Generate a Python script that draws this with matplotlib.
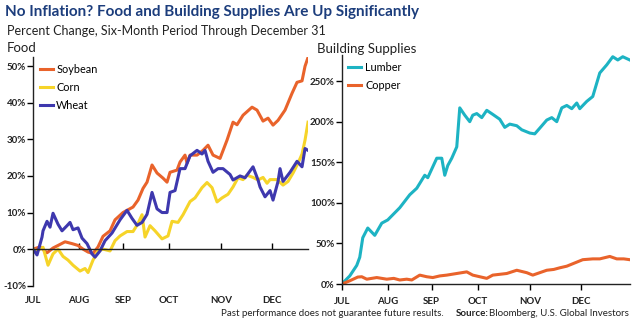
"""
Food vs building supplies, six-month percent change
"""
import matplotlib.pyplot as plt
import numpy as np

plt.rcParams['font.family'] = ['Lato', 'DejaVu Sans']

# month tick positions along the trading timeline (same scale both panels)
months = ['JUL', 'AUG', 'SEP', 'OCT', 'NOV', 'DEC']
month_pos = [0, 46, 90, 136, 188, 239]

# --- Food (percent change) ---
soy_x = [0, 7, 14, 20, 25, 32, 39, 45, 50, 55, 60, 65, 70, 77, 82, 90, 100, 105, 110, 114,
         119, 124, 130, 134, 137, 144, 147, 152, 154, 157, 164, 170, 175, 180, 187, 194,
         200, 204, 210, 219, 224, 230, 235, 240, 245, 252, 259, 264, 269, 272, 275]
soy_y = [0, 0.6, -1, 0.3, 1, 2, 1.5, 1, 0, -0.8, -1.2, 0.6, 3.5, 5, 8, 10, 11.5, 13.4, 16.6, 18.3,
         23, 20.8, 19.4, 18.3, 21, 21.6, 23.8, 25.7, 23.5, 25.7, 25.7, 27, 28.4, 25.7, 24.8, 29.8,
         34.7, 34, 36.6, 38.8, 38, 35, 35.8, 33.9, 35.2, 38, 42.6, 45.6, 46, 50, 52.4]

corn_x = [0, 4, 10, 15, 20, 25, 30, 35, 40, 47, 52, 55, 60, 65, 70, 77, 82, 87, 94, 100,
          105, 109, 112, 117, 122, 129, 135, 139, 145, 150, 157, 162, 169, 174, 179, 184,
          189, 195, 200, 205, 210, 214, 220, 225, 230, 234, 237, 244, 250, 255, 260, 265,
          269, 272, 275]
corn_y = [0, -0.5, 0.5, -4.4, -1.3, 0, -2, -3, -4.4, -6, -5.3, -6.4, -3, -0.5, 0, -0.5, 2.3, 3.6, 4.8, 4.8,
          7, 9.4, 3.3, 6.4, 5, 2.8, 3.6, 7.6, 7.3, 9.4, 13, 14, 16.8, 18.2, 16.8, 12.9,
          14, 15, 17, 19.5, 19, 20.2, 19.6, 18.9, 19.6, 18, 19, 19, 17.5, 18.5, 20.8, 23.5,
          26, 29.8, 34.7]

wheat_x = [0, 4, 9, 10, 14, 17, 20, 25, 29, 34, 37, 40, 45, 49, 54, 59, 62, 67, 72, 79,
           87, 94, 99, 104, 109, 114, 119, 124, 129, 134, 137, 142, 147, 152, 157, 164,
           169, 172, 175, 180, 185, 190, 197, 200, 207, 212, 220, 225, 227, 232, 237, 240,
           245, 247, 250, 257, 264, 269, 272, 275]
wheat_y = [0, -1.6, 3.3, 5, 7.6, 6, 9.8, 6.8, 5, 6.4, 7.3, 5.3, 5.8, 3, 1.5, -1.3, -2.2, -0.5, 2.3, 4.4,
           8, 10.6, 8.4, 6.5, 7.3, 9.5, 15.5, 11, 10, 10, 15.5, 16, 22, 22, 25.5, 27,
           26, 27, 24, 21, 22, 22, 20.4, 18.9, 20, 19.5, 22.5, 18.9, 17, 14.3, 16, 13.4,
           18.5, 22, 18.5, 21, 24, 22.5, 27.5, 27]

# --- Building supplies (percent change) ---
lumber_x = [0, 8, 15, 18, 21, 26, 33, 40, 46, 58, 68, 75, 83, 86, 95, 100, 103, 106, 110, 115,
            118, 123, 128, 131, 135, 140, 145, 151, 158, 163, 168, 175, 180, 188, 193, 198,
            205, 210, 215, 220, 225, 230, 235, 238, 245, 251, 258, 265, 271, 276, 281, 288]
lumber_y = [0, 10, 23, 33, 57, 69, 60, 75, 79, 94, 110, 118, 134, 131, 155, 155, 134, 146, 155, 169,
            217, 208, 200, 208, 210, 205, 214, 209, 203, 193, 197, 195, 190, 186, 185, 192,
            202, 205, 200, 217, 220, 216, 223, 216, 225, 231, 260, 270, 280, 276, 280, 276]

copper_x = [0, 8, 16, 20, 25, 35, 45, 52, 58, 65, 70, 78, 85, 91, 98, 105, 115, 125, 131, 138,
            145, 151, 158, 165, 175, 185, 191, 198, 205, 212, 218, 225, 235, 241, 251, 258,
            268, 275, 282, 288]
copper_y = [0, 4, 8.6, 9, 6, 8, 6, 7, 5, 6, 5, 11, 9, 8, 10, 11, 13, 15, 11, 9,
            7, 11, 12, 13, 17, 14, 11, 14, 17, 18, 20, 22, 27, 30, 31, 31,
            34, 31, 31, 30]

ORANGE = '#E9632B'
YELLOW = '#F6D429'
PURPLE = '#3E38AE'
CYAN = '#1DB3C3'
TXT = '#222222'

fig = plt.figure(figsize=(6.4, 3.28), dpi=100)

# titles
fig.text(0.008, 0.962, 'No Inflation? Food and Building Supplies Are Up Significantly',
         fontsize=11, fontweight='bold', color='#1C3D7C', va='center')
fig.text(0.011, 0.907, 'Percent Change, Six-Month Period Through December 31',
         fontsize=9, color=TXT, va='center')
fig.text(0.011, 0.853, 'Food', fontsize=9.5, color=TXT, va='center')
fig.text(0.495, 0.850, 'Building Supplies', fontsize=9.5, color=TXT, va='center')

# Plot 1: Food
ax1 = fig.add_axes([0.0516, 0.129, 0.4297, 0.697])
ax1.plot(soy_x, soy_y, color=ORANGE, lw=2.2, label='Soybean')
ax1.plot(corn_x, corn_y, color=YELLOW, lw=2.2, label='Corn')
ax1.plot(wheat_x, wheat_y, color=PURPLE, lw=2.2, label='Wheat')
ax1.set_xlim(0, 275)
ax1.set_ylim(-10, 52.5)
ax1.set_yticks(np.arange(-10, 51, 10))
ax1.set_yticklabels([f'{v}%' for v in range(-10, 51, 10)])
ax1.spines['bottom'].set_position(('data', 0))
ax1.spines[['top', 'right']].set_visible(False)
ax1.set_xticks(month_pos[1:])
ax1.tick_params(axis='x', direction='in', length=4, width=1, labelbottom=False)
for m, p in zip(months, month_pos):
    ax1.text(p, -0.063, m, transform=ax1.get_xaxis_transform(), ha='center', va='center',
             fontsize=7, fontweight='bold', color=TXT)
ax1.legend(loc='upper left', bbox_to_anchor=(0.0, 1.0), frameon=False, fontsize=7.8,
           handlelength=1.2, handletextpad=0.35, labelspacing=0.65, borderaxespad=0.2)

# Plot 2: Building supplies
ax2 = fig.add_axes([0.534, 0.134, 0.45, 0.698])
ax2.plot(lumber_x, lumber_y, color=CYAN, lw=2.2, label='Lumber')
ax2.plot(copper_x, copper_y, color=ORANGE, lw=2.2, label='Copper')
ax2.set_xlim(0, 288)
ax2.set_ylim(0, 282)
ax2.set_yticks(np.arange(0, 251, 50))
ax2.set_yticklabels([f'{v}%' for v in range(0, 251, 50)])
ax2.spines[['top', 'right']].set_visible(False)
ax2.set_xticks(month_pos)
ax2.set_xticklabels(months)
ax2.tick_params(axis='x', direction='out', length=4, width=1, pad=5)
ax2.legend(loc='upper left', bbox_to_anchor=(0.0, 1.0), frameon=False, fontsize=7.8,
           handlelength=1.2, handletextpad=0.35, labelspacing=0.65, borderaxespad=0.2)

for ax in (ax1, ax2):
    ax.spines[['left', 'bottom']].set_color(TXT)
    ax.spines[['left', 'bottom']].set_linewidth(1)
    ax.tick_params(axis='y', direction='out', length=4, width=1, pad=1)
    for lbl in ax.get_yticklabels() + ax.get_xticklabels():
        lbl.set_fontsize(7)
        lbl.set_fontweight('bold')
        lbl.set_color(TXT)

# footer
fig.text(0.345, 0.043, 'Past performance does not guarantee future results.',
         fontsize=7, color=TXT, va='center')
fig.text(0.712, 0.043, 'Source:', fontsize=7, fontweight='bold', color=TXT, va='center')
fig.text(0.764, 0.043, 'Bloomberg, U.S. Global Investors', fontsize=7, color=TXT, va='center')

plt.savefig('out.png', dpi=100)
